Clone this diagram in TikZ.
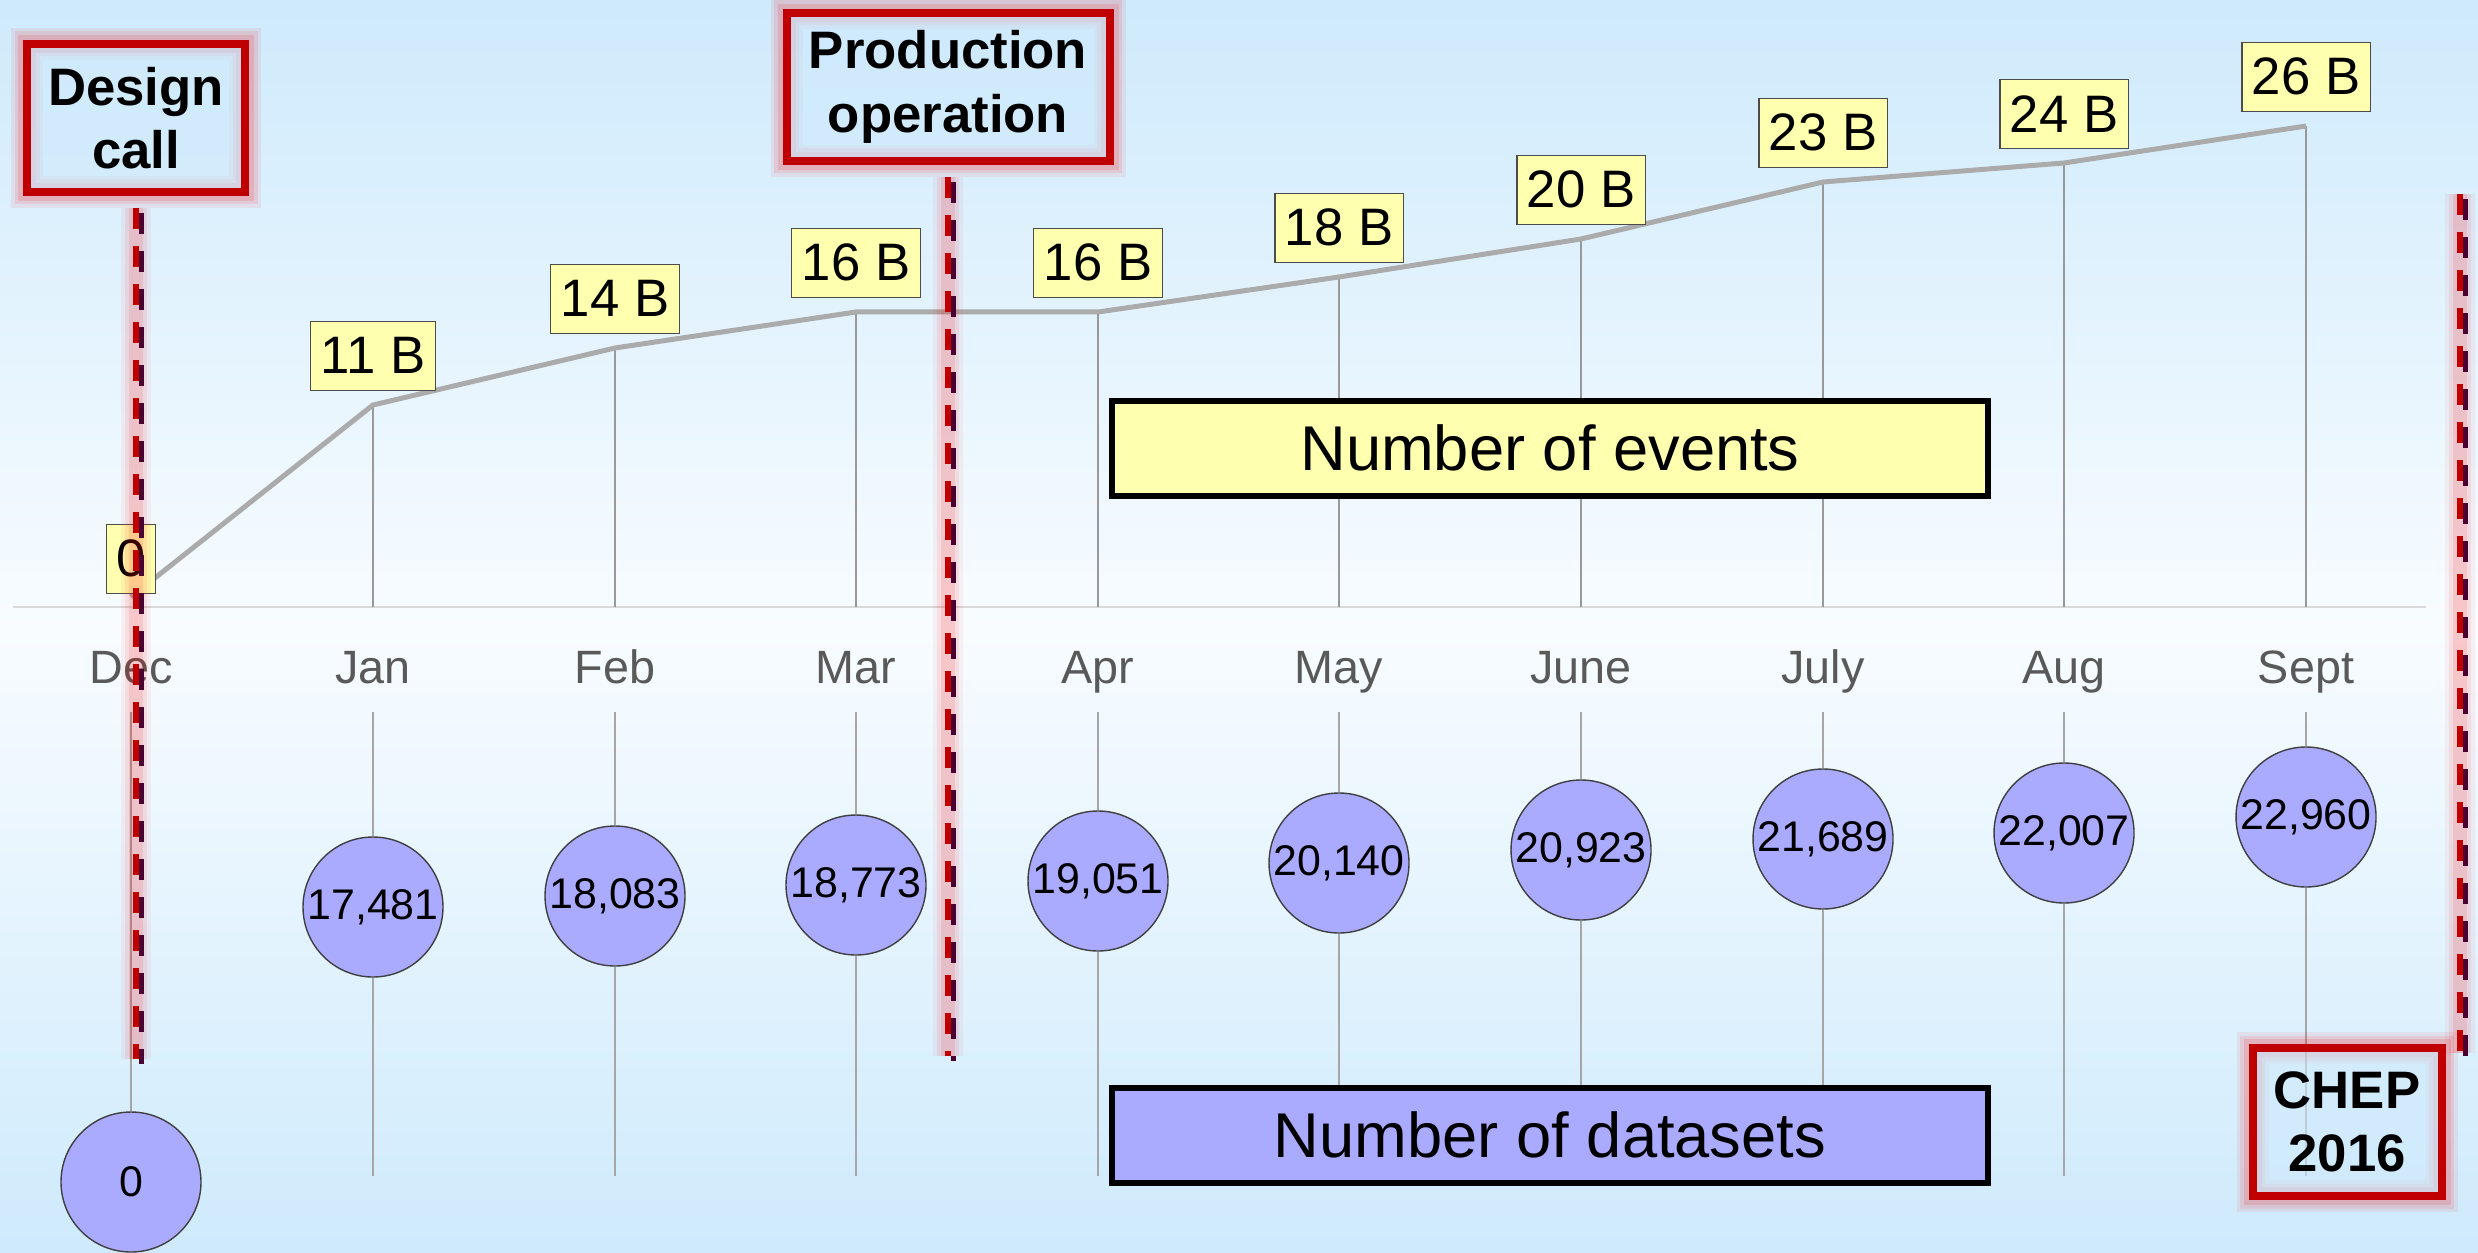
\documentclass[tikz,border=0pt]{standalone}
\usepackage{fontspec}
\setmainfont{Liberation Sans}
\usetikzlibrary{positioning}

\definecolor{skyblue}{RGB}{206,234,252}
\definecolor{paleblue}{RGB}{248,252,255}
\definecolor{evyellow}{RGB}{255,255,176}
\definecolor{dsviolet}{RGB}{170,170,255}
\definecolor{markred}{RGB}{192,0,0}
\definecolor{markdark}{RGB}{75,0,50}
\definecolor{monthgray}{RGB}{89,89,89}

\tikzset{
  axisline/.style={draw=black!15, line width=0.02cm},
  month/.style={anchor=base, text=monthgray, font=\fontsize{13.3}{16}\selectfont},
  evline/.style={draw=black!33, line width=0.05cm},
  drop/.style={draw=black!40, line width=0.02cm},
  dsline/.style={draw=black!35, line width=0.02cm},
  evlabel/.style={draw=black!70, fill=evyellow, inner xsep=0.1cm, inner ysep=0pt,
    minimum height=0.69cm, font=\fontsize{15}{18}\selectfont},
  dataset/.style={circle, draw=black!75, fill=dsviolet, minimum size=1.40cm,
    inner sep=0pt, font=\fontsize{12.2}{14}\selectfont},
  legendbox/.style={draw=black, line width=0.06cm, minimum width=8.76cm,
    minimum height=0.95cm, font=\fontsize{18}{21}\selectfont},
  milestone/.style={draw=markred, line width=0.08cm, align=center, minimum height=1.48cm,
    fill=skyblue, fill opacity=0.6, text opacity=1,
    font=\bfseries\fontsize{15}{18}\selectfont,
    preaction={draw=red, line width=0.32cm, opacity=0.07},
    preaction={draw=red, line width=0.25cm, opacity=0.09},
    preaction={draw=red, line width=0.18cm, opacity=0.12}},
  deadline/.style={draw=markred, line width=0.055cm, dash pattern=on 0.21cm off 0.17cm,
    preaction={draw=red, solid, line width=0.30cm, opacity=0.05},
    preaction={draw=red, solid, line width=0.22cm, opacity=0.07},
    preaction={draw=red, solid, line width=0.14cm, opacity=0.10}},
  deadshadow/.style={draw=markdark, line width=0.05cm, dash pattern=on 0.21cm off 0.17cm,
    transform canvas={xshift=0.055cm, yshift=-0.05cm}}
}

\begin{document}
\begin{tikzpicture}
\useasboundingbox (0,0) rectangle (24.78,12.52);
\shade[top color=skyblue, bottom color=skyblue, middle color=paleblue] (0,0) rectangle (24.78,12.52);

% time axis
\coordinate (ax0) at (0.13,6.45);
\coordinate (ax1) at (24.26,6.45);
\draw[axisline] (ax0) -- (ax1);

% months
\node[month] (dec) at (1.31,5.69) {Dec};
\node[month] (jan) at (3.73,5.69) {Jan};
\node[month] (feb) at (6.15,5.69) {Feb};
\node[month] (mar) at (8.56,5.69) {Mar};
\node[month] (apr) at (10.98,5.69) {Apr};
\node[month] (may) at (13.39,5.69) {May};
\node[month] (jun) at (15.81,5.69) {June};
\node[month] (jul) at (18.23,5.69) {July};
\node[month] (aug) at (20.64,5.69) {Aug};
\node[month] (sep) at (23.06,5.69) {Sept};

% number of events (cumulative)
\coordinate (e0) at (1.31,6.55);
\coordinate (e1) at (3.73,8.47);
\coordinate (e2) at (6.15,9.04);
\coordinate (e3) at (8.56,9.40);
\coordinate (e4) at (10.98,9.40);
\coordinate (e5) at (13.39,9.75);
\coordinate (e6) at (15.81,10.13);
\coordinate (e7) at (18.23,10.70);
\coordinate (e8) at (20.64,10.89);
\coordinate (e9) at (23.06,11.26);
\draw[drop] (e1) -- (e1 |- ax0);
\draw[drop] (e2) -- (e2 |- ax0);
\draw[drop] (e3) -- (e3 |- ax0);
\draw[drop] (e4) -- (e4 |- ax0);
\draw[drop] (e5) -- (e5 |- ax0);
\draw[drop] (e6) -- (e6 |- ax0);
\draw[drop] (e7) -- (e7 |- ax0);
\draw[drop] (e8) -- (e8 |- ax0);
\draw[drop] (e9) -- (e9 |- ax0);
\draw[evline] (e0) -- (e1) -- (e2) -- (e3) -- (e4) -- (e5) -- (e6) -- (e7) -- (e8) -- (e9);
\node[evlabel, above=0.03cm of e0] (ev0) {0};
\node[evlabel, above=0.14cm of e1] (ev1) {11 B};
\node[evlabel, above=0.14cm of e2] (ev2) {14 B};
\node[evlabel, above=0.14cm of e3] (ev3) {16 B};
\node[evlabel, above=0.14cm of e4] (ev4) {16 B};
\node[evlabel, above=0.14cm of e5] (ev5) {18 B};
\node[evlabel, above=0.14cm of e6] (ev6) {20 B};
\node[evlabel, above=0.14cm of e7] (ev7) {23 B};
\node[evlabel, above=0.14cm of e8] (ev8) {24 B};
\node[evlabel, above=0.14cm of e9] (ev9) {26 B};

% number of datasets
\node[dataset] (ds0) at (1.31,0.70) {0};
\node[dataset] (ds1) at (3.73,3.45) {17,481};
\node[dataset] (ds2) at (6.15,3.56) {18,083};
\node[dataset] (ds3) at (8.56,3.67) {18,773};
\node[dataset] (ds4) at (10.98,3.71) {19,051};
\node[dataset] (ds5) at (13.39,3.89) {20,140};
\node[dataset] (ds6) at (15.81,4.02) {20,923};
\node[dataset] (ds7) at (18.23,4.13) {21,689};
\node[dataset] (ds8) at (20.64,4.19) {22,007};
\node[dataset] (ds9) at (23.06,4.35) {22,960};
\draw[dsline] (dec |- 0,5.40) -- (ds0);
\draw[dsline] (jan |- 0,5.40) -- (ds1) -- (jan |- 0,0.76);
\draw[dsline] (feb |- 0,5.40) -- (ds2) -- (feb |- 0,0.76);
\draw[dsline] (mar |- 0,5.40) -- (ds3) -- (mar |- 0,0.76);
\draw[dsline] (apr |- 0,5.40) -- (ds4) -- (apr |- 0,0.76);
\draw[dsline] (may |- 0,5.40) -- (ds5) -- (may |- 0,0.76);
\draw[dsline] (jun |- 0,5.40) -- (ds6) -- (jun |- 0,0.76);
\draw[dsline] (jul |- 0,5.40) -- (ds7) -- (jul |- 0,0.76);
\draw[dsline] (aug |- 0,5.40) -- (ds8) -- (aug |- 0,0.76);
\draw[dsline] (sep |- 0,5.40) -- (ds9) -- (sep |- 0,0.76);

% legends
\node[legendbox, fill=evyellow] (events) at (15.50,8.04) {Number of events};
\node[legendbox, fill=dsviolet] (datasets) at (15.50,1.17) {Number of datasets};

% milestones
\node[milestone, minimum width=2.18cm] (design) at (1.36,11.34) {Design\\call};
\node[milestone, minimum width=3.23cm] (production) at (9.48,11.65) {Production\\operation};
\node[milestone, minimum width=1.89cm] (chep) at (23.47,1.30) {CHEP\\2016};
\coordinate (designend) at (1.36,1.93);
\coordinate (prodend) at (9.48,1.96);
\coordinate (cheptop) at (24.60,10.58);
\coordinate (chepend) at (24.60,1.99);
\draw[deadline] ([yshift=-0.12cm]design.south) -- (designend);
\draw[deadshadow] ([yshift=-0.12cm]design.south) -- (designend);
\draw[deadline] ([yshift=-0.12cm]production.south) -- (prodend);
\draw[deadshadow] ([yshift=-0.12cm]production.south) -- (prodend);
\draw[deadline] (cheptop) -- (chepend);
\draw[deadshadow] (cheptop) -- (chepend);
\end{tikzpicture}
\end{document}
